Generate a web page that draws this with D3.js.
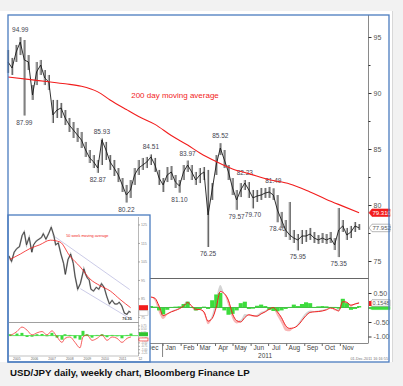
<!DOCTYPE html>
<html>
<head>
<meta charset="utf-8">
<script src="https://cdn.jsdelivr.net/npm/d3@7"></script>
<style>
body { margin: 0; background: #f2f2f2; }
svg { display: block; font-family: "Liberation Sans", Arial, sans-serif; }
</style>
</head>
<body>
<svg width="403" height="386"></svg>
<script>
// ---- daily chart, one entry per week starting 11 Apr 2010 ----
var firstWeek = new Date(2010, 3, 11);
var weekHigh = [93.84, 93.13, 94.29, 94.99, 94.73, 93.39, 90.71, 92.77, 92.95, 92.05,
    91.61, 89.38, 89.38, 89.11, 88.48, 87.77, 87.41, 86.88, 86.52, 85.63,
    84.91, 84.46, 84.02, 85.93, 85.63, 84.46, 84.02, 83.30, 82.41, 81.79,
    82.23, 83.30, 84.02, 84.20, 84.29, 84.51, 84.20, 83.13, 82.41, 83.39,
    83.48, 82.68, 82.23, 83.57, 83.97, 83.57, 82.95, 83.30, 83.39, 83.13,
    81.96, 84.46, 85.52, 84.91, 83.57, 82.41, 81.34, 81.96, 82.23, 82.05,
    81.34, 81.34, 81.52, 81.52, 81.61, 81.49, 80.89, 79.38, 78.66, 80.27,
    77.77, 77.41, 77.77, 77.77, 77.95, 77.59, 77.32, 77.50, 77.41, 77.59,
    77.05, 79.73, 78.66, 77.95, 78.13, 78.48, 78.30];
var weekLow = [91.79, 91.61, 92.77, 93.39, 87.99, 92.05, 89.38, 90.71, 91.61, 90.71,
    90.27, 87.32, 87.77, 87.77, 87.14, 86.52, 85.98, 85.63, 85.09, 84.29,
    83.75, 83.30, 82.87, 83.57, 84.02, 83.13, 82.59, 82.05, 81.16, 80.22,
    80.63, 81.79, 82.68, 83.13, 83.30, 83.57, 82.95, 81.79, 81.16, 82.05,
    82.23, 81.52, 81.10, 82.23, 82.95, 82.23, 81.79, 81.96, 82.23, 76.25,
    80.45, 82.68, 84.46, 83.30, 82.23, 80.89, 79.57, 80.71, 81.34, 80.63,
    79.70, 80.27, 80.45, 80.63, 80.63, 80.45, 78.46, 77.95, 77.14, 76.88,
    76.61, 75.95, 76.52, 76.70, 76.88, 76.61, 76.52, 76.61, 76.52, 76.61,
    75.98, 75.35, 77.59, 76.88, 77.05, 77.59, 77.77];
var weekClose = [92.77, 92.23, 93.66, 94.55, 92.95, 92.77, 89.82, 91.88, 92.50, 91.34,
    90.98, 88.04, 88.48, 88.66, 87.77, 87.14, 86.70, 86.25, 85.80, 84.91,
    84.20, 83.84, 83.30, 85.80, 84.91, 83.84, 83.30, 82.68, 81.79, 80.89,
    81.34, 82.68, 83.30, 83.57, 83.84, 84.29, 83.57, 82.41, 81.79, 82.68,
    82.95, 82.05, 81.70, 82.95, 83.57, 82.95, 82.23, 82.68, 82.95, 79.11,
    81.34, 83.57, 85.09, 84.02, 82.95, 81.52, 80.45, 81.34, 81.96, 81.34,
    80.63, 80.80, 80.89, 81.07, 81.16, 80.89, 79.55, 78.66, 77.77, 77.32,
    77.05, 76.88, 77.23, 77.23, 77.41, 77.05, 76.88, 77.05, 76.88, 77.05,
    76.43, 77.77, 78.13, 77.32, 77.59, 78.13, 77.952];

// 200 day moving average, read at these week numbers
var maWeek = [0, 6, 10, 14, 18, 22, 25, 29, 32, 36, 40, 44, 47, 51, 55, 59, 64, 69, 74, 78, 82, 86];
var maValue = [91.43, 91.17, 91.0, 90.82, 90.6, 90.1, 89.38, 88.52, 87.9, 87.2, 86.2,
    85.35, 84.65, 83.88, 83.22, 82.8, 82.25, 81.88, 81.16, 80.5, 79.9, 79.31];

// turning point labels: [text, week, value, side]
var peakLabels = [["94.99", 3, 94.99, "a"], ["87.99", 4, 87.99, "b"], ["85.93", 23, 85.93, "a"],
    ["82.87", 22, 82.87, "b"], ["80.22", 29, 80.22, "b"], ["84.51", 35, 84.51, "a"],
    ["81.10", 42, 81.10, "b"], ["83.97", 44, 83.97, "a"], ["76.25", 49, 76.25, "b"],
    ["85.52", 52, 85.52, "a"], ["79.57", 56, 79.57, "b"], ["82.23", 58, 82.23, "a"],
    ["79.70", 60, 79.70, "b"], ["81.49", 65, 81.49, "a"], ["78.46", 66, 78.46, "b"],
    ["75.95", 71, 75.95, "b"], ["75.35", 81, 75.35, "b"]];

// lower oscillator, from week 35 on
var oscStart = 35;
var oscSlow = [0.36, 0.32, 0.05, -0.28, -0.22, -0.15, -0.10, -0.04, 0.05, 0.17,
    0.05, -0.06, -0.07, -0.15, -0.47, -0.38, 0.00, 0.55, 0.48, 0.25,
    -0.22, -0.45, -0.50, -0.35, -0.25, -0.28, -0.30, -0.22, -0.15, -0.06,
    0.00, -0.15, -0.35, -0.62, -0.72, -0.70, -0.62, -0.45, -0.28, -0.17,
    -0.15, -0.14, -0.12, -0.08, -0.02, -0.05, -0.12, 0.20, 0.18, 0.08, 0.12, 0.1548];
var oscFast = [0.38, 0.22, -0.18, -0.40, -0.25, -0.12, -0.06, 0.00, 0.12, 0.22,
    0.00, -0.12, -0.08, -0.22, -0.58, -0.25, 0.35, 0.78, 0.45, 0.05,
    -0.40, -0.55, -0.42, -0.22, -0.28, -0.32, -0.25, -0.15, -0.10, -0.02,
    -0.05, -0.30, -0.55, -0.80, -0.82, -0.70, -0.55, -0.35, -0.18, -0.10,
    -0.12, -0.10, -0.08, -0.04, 0.00, -0.10, -0.05, 0.30, 0.12, 0.02, 0.15, 0.20];
var oscHist = [0.05, 0.03, -0.10, -0.24, -0.08, 0.02, 0.03, 0.04, 0.12, 0.20,
    0.02, -0.10, -0.05, 0.03, -0.05, 0.25, 0.45, 0.50, -0.10, -0.25,
    -0.22, -0.10, 0.15, 0.20, -0.05, -0.04, 0.06, 0.10, 0.05, -0.08,
    -0.12, -0.13, -0.10, -0.05, 0.02, 0.10, 0.05, 0.12, 0.18, 0.15,
    0.02, 0.04, 0.05, 0.04, 0.02, 0.02, -0.04, 0.30, 0.15, -0.08, -0.05, 0.05];
var monthNames = ["Dec", "Jan", "Feb", "Mar", "Apr", "May", "Jun", "Jul", "Aug", "Sep", "Oct", "Nov"];

// ---- weekly inset chart (years as decimals) ----
var insetYear = [2005.05, 2005.2, 2005.35, 2005.5, 2005.65, 2005.8, 2005.92, 2006.05, 2006.2, 2006.35,
    2006.45, 2006.6, 2006.75, 2006.9, 2007.0, 2007.15, 2007.3, 2007.45, 2007.6, 2007.7,
    2007.85, 2008.0, 2008.15, 2008.25, 2008.4, 2008.55, 2008.7, 2008.8, 2008.95, 2009.1,
    2009.3, 2009.4, 2009.5, 2009.6, 2009.7, 2009.85, 2010.0, 2010.15, 2010.3, 2010.45,
    2010.6, 2010.75, 2010.9, 2011.05, 2011.2, 2011.3, 2011.45, 2011.6, 2011.75, 2011.85, 2011.95];
var insetPrice = [108, 105, 110, 112, 113, 119, 121, 114, 118, 110,
    114, 116, 117, 118, 120, 117, 120, 123.5, 119, 114,
    115, 109, 104, 98, 106, 109, 104, 97, 90, 93,
    101, 98, 96, 95, 90, 89, 91, 90, 93, 91,
    86, 82, 84, 82, 82, 83, 81, 77, 76.4, 78, 77.5];
var insetMaYear = [2005.1, 2005.7, 2006.25, 2006.8, 2007.4, 2007.95, 2008.5, 2009.1, 2009.65, 2010.2, 2010.8, 2011.35, 2011.95];
var insetMa = [106, 109, 112, 114, 116.5, 115.5, 108, 102, 95.5, 92, 89, 84.5, 80];
var channelUpper = [[2007.5, 119.4], [2011.9, 89.8]];
var channelLower = [[2009.1, 90.3], [2011.9, 74.2]];
var insetOscYear = [2005.11, 2005.51, 2005.79, 2006.08, 2006.36, 2006.64, 2006.93, 2007.21, 2007.49, 2007.78,
    2008.06, 2008.23, 2008.51, 2008.80, 2009.08, 2009.25, 2009.48, 2009.76, 2010.05, 2010.33,
    2010.61, 2010.90, 2011.18, 2011.46, 2011.75, 2011.97];
var insetOsc = [0, 0.3, 0.63, 0.4, 0.05, 0.2, 0.3, 0.05, 0.35, -0.1,
    -0.5, -0.2, -0.1, -0.5, -0.9, -0.1, 0.05, -0.35, -0.2, 0.05,
    -0.35, -0.1, -0.2, -0.5, -0.2, -0.1];
var insetHist = [0.1, 0.15, 0.2, -0.1, -0.08, 0.1, 0.12, -0.05, 0.2, -0.15,
    -0.3, 0.1, 0.05, -0.2, -0.3, 0.35, 0.1, -0.15, 0.05, 0.1,
    -0.12, 0.05, -0.05, -0.2, 0.05, 0.15];
var insetYears = ["2005", "2006", "2007", "2008", "2009", "2010", "2011", "12"];

var RED = "#f21d1d", GREEN = "#3cdc3c", BLUE = "#4a7cbf";

var svg = d3.select("svg");

// page background + white card
svg.append("rect").attr("x", 0).attr("y", 11).attr("width", 392).attr("height", 351).attr("fill", "#fff");
svg.append("line").attr("x1", 392.5).attr("x2", 392.5).attr("y1", 11).attr("y2", 362).attr("stroke", "#d8d8d8");

// scales
var x = d3.scaleTime().domain([new Date(2010, 3, 11), new Date(2011, 11, 9)]).range([8, 362]);
var y = d3.scaleLinear().domain([75, 95]).range([261, 37]);
var yOsc = d3.scaleLinear().domain([-1, 0.5]).range([336.5, 293]);
var weeks = weekClose.map(function (d, i) { return d3.timeWeek.offset(firstWeek, i); });
var wx = function (i) { return x(weeks[i]); };

var plot = svg.append("g");

// panel frame lines
plot.append("line").attr("x1", 368.5).attr("x2", 368.5).attr("y1", 15).attr("y2", 343).attr("stroke", "#8a8a8a");
plot.append("line").attr("x1", 8).attr("x2", 368.5).attr("y1", 278.5).attr("y2", 278.5).attr("stroke", "#666");
plot.append("line").attr("x1", 8).attr("x2", 368.5).attr("y1", 343.5).attr("y2", 343.5).attr("stroke", "#888");

// price axis
var yAxis = plot.append("g").attr("transform", "translate(368.5,0)")
    .call(d3.axisRight(y).tickValues([75, 80, 85, 90, 95]).tickSize(3).tickFormat(d3.format("d")));
var yMinor = plot.append("g").attr("transform", "translate(368.5,0)")
    .call(d3.axisRight(y).tickValues([77.5, 82.5, 87.5, 92.5]).tickSize(2).tickFormat(""));
[yAxis, yMinor].forEach(function (a) {
    a.select(".domain").remove();
    a.selectAll("line").attr("stroke", "#333");
    a.selectAll("text").attr("font-size", 7).attr("fill", "#555").attr("x", 5)
        .attr("font-family", "Liberation Sans, Arial, sans-serif");
});

// turning point labels (under the bars, as in the source)
plot.selectAll(".pl").data(peakLabels).enter().append("text")
    .attr("class", "pl")
    .attr("x", function (d) { return wx(d[1]); })
    .attr("y", function (d) { return d[3] == "a" ? y(d[2]) - 5 : y(d[2]) + 9; })
    .attr("text-anchor", "middle")
    .attr("font-size", 6.5)
    .attr("fill", "#44444f")
    .text(function (d) { return d[0]; });

// price bars
plot.selectAll(".band").data(weekClose).enter().append("line")
    .attr("x1", function (d, i) { return wx(i); })
    .attr("x2", function (d, i) { return wx(i); })
    .attr("y1", function (d, i) { return y(weekHigh[i]); })
    .attr("y2", function (d, i) { return y(weekLow[i]); })
    .attr("stroke", "#b0b0b0").attr("stroke-width", 2.2);
plot.selectAll(".hl").data(weekClose).enter().append("line")
    .attr("x1", function (d, i) { return wx(i) + 0.6; })
    .attr("x2", function (d, i) { return wx(i) + 0.6; })
    .attr("y1", function (d, i) { return y(weekHigh[i]); })
    .attr("y2", function (d, i) { return y(weekLow[i]); })
    .attr("stroke", "#3a3a3a").attr("stroke-width", 0.7);
plot.append("path")
    .datum(weekClose)
    .attr("d", d3.line().x(function (d, i) { return wx(i); }).y(function (d) { return y(d); }))
    .attr("fill", "none").attr("stroke", "#1a1a1a").attr("stroke-width", 0.9);

// moving average
plot.append("path")
    .datum(maValue)
    .attr("d", d3.line().curve(d3.curveMonotoneX)
        .x(function (d, i) { return wx(maWeek[i]); }).y(function (d) { return y(d); }))
    .attr("fill", "none").attr("stroke", RED).attr("stroke-width", 1.1);
plot.append("text").attr("x", 175).attr("y", 98).attr("text-anchor", "middle")
    .attr("font-size", 8).attr("fill", RED).text("200 day moving average");

// right-hand value tags
function tag(g, yy, w, h, txt, fill, stroke, color, fs) {
    var x0 = 369;
    g.append("path")
        .attr("d", "M" + x0 + "," + yy + "L" + (x0 + 3) + "," + (yy - h / 2) + "H" + (x0 + w) +
            "V" + (yy + h / 2) + "H" + (x0 + 3) + "Z")
        .attr("fill", fill).attr("stroke", stroke).attr("stroke-width", 0.6);
    g.append("text").attr("x", x0 + 3.5).attr("y", yy + fs * 0.36).attr("font-size", fs)
        .attr("fill", color).text(txt);
}
tag(plot, y(maValue[maValue.length - 1]), 21, 7.5, d3.format(".3f")(maValue[maValue.length - 1]), RED, RED, "#fff", 6);
tag(plot, y(weekClose[weekClose.length - 1]), 21, 7.5, d3.format(".3f")(weekClose[weekClose.length - 1]), "#fff", "#888", "#555", 6);

// oscillator panel
var ox = function (i) { return wx(oscStart + i); };
plot.append("path").datum(oscSlow)
    .attr("d", d3.area().curve(d3.curveMonotoneX).x(function (d, i) { return ox(i); })
        .y0(function (d) { return yOsc(d); })
        .y1(function (d, i) { return yOsc(Math.min(d, oscFast[i])); }))
    .attr("fill", "#f7a9a9").attr("opacity", 0.85);
plot.append("path").datum(oscSlow)
    .attr("d", d3.area().curve(d3.curveMonotoneX).x(function (d, i) { return ox(i); })
        .y0(function (d) { return yOsc(d); })
        .y1(function (d, i) { return yOsc(Math.max(d, oscFast[i])); }))
    .attr("fill", "#cfcfcf").attr("opacity", 0.9);
plot.selectAll(".hist").data(oscHist).enter().append("rect")
    .attr("x", function (d, i) { return ox(i) - 2; })
    .attr("width", 4.1)
    .attr("y", function (d) { return yOsc(Math.max(0, d)); })
    .attr("height", function (d) { return Math.abs(yOsc(d) - yOsc(0)); })
    .attr("fill", GREEN);
plot.append("line").attr("x1", ox(0)).attr("x2", ox(oscHist.length - 1))
    .attr("y1", yOsc(0)).attr("y2", yOsc(0)).attr("stroke", "#2fb52f").attr("stroke-width", 0.8);
plot.append("path").datum(oscSlow)
    .attr("d", d3.line().curve(d3.curveMonotoneX).x(function (d, i) { return ox(i); }).y(function (d) { return yOsc(d); }))
    .attr("fill", "none").attr("stroke", RED).attr("stroke-width", 1);

var oAxis = plot.append("g").attr("transform", "translate(368.5,0)")
    .call(d3.axisRight(yOsc).tickValues([0.5, -0.5, -1]).tickSize(3)
        .tickFormat(function (d) { return d.toFixed(2); }));
var oMinor = plot.append("g").attr("transform", "translate(368.5,0)")
    .call(d3.axisRight(yOsc).tickValues([0]).tickSize(3).tickFormat(""));
[oAxis, oMinor].forEach(function (a) {
    a.select(".domain").remove();
    a.selectAll("line").attr("stroke", "#333");
    a.selectAll("text").attr("font-size", 7).attr("fill", "#555").attr("x", 5)
        .attr("font-family", "Liberation Sans, Arial, sans-serif");
});
tag(plot, yOsc(oscHist[oscHist.length - 1]) + 2, 21, 3, "", GREEN, GREEN, "#fff", 5);
tag(plot, yOsc(oscSlow[oscSlow.length - 1]), 21, 6.5, d3.format(".4f")(oscSlow[oscSlow.length - 1]), "#fff", "#888", "#555", 5.5);
plot.append("rect").attr("x", 369).attr("y", yOsc(oscSlow[oscSlow.length - 1]) - 2).attr("width", 2.5).attr("height", 5).attr("fill", RED);

// month axis
var midMonths = monthNames.map(function (m, i) { return new Date(2010, 11 + i, 15); });
var monthStarts = monthNames.map(function (m, i) { return new Date(2010, 11 + i, 1); });
var mAxis = plot.append("g").attr("transform", "translate(0,343.5)")
    .call(d3.axisBottom(x).tickValues(monthStarts).tickSize(2.5).tickFormat(""));
mAxis.select(".domain").remove();
mAxis.selectAll("line").attr("stroke", "#666");
plot.selectAll(".mon").data(midMonths).enter().append("text")
    .attr("x", function (d) { return x(d); }).attr("y", 349.5)
    .attr("text-anchor", "middle").attr("font-size", 6.5).attr("fill", "#444")
    .text(function (d, i) { return monthNames[i]; });
plot.append("line").attr("x1", x(new Date(2011, 0, 1))).attr("x2", x(new Date(2011, 0, 1)))
    .attr("y1", 343.5).attr("y2", 357).attr("stroke", "#666").attr("stroke-width", 0.8);
plot.append("text").attr("x", x(new Date(2011, 6, 1)) - 3).attr("y", 357.5).attr("text-anchor", "middle")
    .attr("font-size", 6.5).attr("fill", "#444").text("2011");
plot.append("text").attr("x", 388).attr("y", 359.5).attr("text-anchor", "end")
    .attr("font-size", 3.8).attr("fill", "#777").text("01-Dec-2011 16:16:55");

// ---------------- weekly inset ----------------
var ix = d3.scaleLinear().domain([2005, 2012]).range([8, 131.5]);
var iy = d3.scaleLinear().domain([72, 126]).range([322.5, 222.6]);
var iyOsc = d3.scaleLinear().domain([-1.5, 1]).range([356, 322]);
var inset = svg.append("g");
inset.append("rect").attr("x", 8).attr("y", 215).attr("width", 142).attr("height", 147).attr("fill", "#fff");
inset.append("line").attr("x1", 138.5).attr("x2", 138.5).attr("y1", 217).attr("y2", 356).attr("stroke", "#999").attr("stroke-width", 0.7);
inset.append("line").attr("x1", 9).attr("x2", 138.5).attr("y1", 322.5).attr("y2", 322.5).attr("stroke", "#777").attr("stroke-width", 0.7);
inset.append("line").attr("x1", 9).attr("x2", 138.5).attr("y1", 356).attr("y2", 356).attr("stroke", "#999").attr("stroke-width", 0.6);

var iAxis = inset.append("g").attr("transform", "translate(138.5,0)")
    .call(d3.axisRight(iy).tickValues([75, 85, 95, 105, 115, 125]).tickSize(1.5).tickFormat(d3.format("d")));
iAxis.select(".domain").remove();
iAxis.selectAll("line").attr("stroke", "#555").attr("stroke-width", 0.5);
iAxis.selectAll("text").attr("font-size", 3.6).attr("fill", "#888").attr("x", 2.5);
var ioAxis = inset.append("g").attr("transform", "translate(138.5,0)")
    .call(d3.axisRight(iyOsc).tickValues([0.75, 0.5, 0.25, -0.25, -0.5, -0.75, -1, -1.25]).tickSize(1.5)
        .tickFormat(function (d) { return d.toFixed(2); }));
ioAxis.select(".domain").remove();
ioAxis.selectAll("line").attr("stroke", "#555").attr("stroke-width", 0.5);
ioAxis.selectAll("text").attr("font-size", 2.8).attr("fill", "#888").attr("x", 2.5);

[channelUpper, channelLower].forEach(function (c) {
    inset.append("line")
        .attr("x1", ix(c[0][0])).attr("y1", iy(c[0][1]))
        .attr("x2", ix(c[1][0])).attr("y2", iy(c[1][1]))
        .attr("stroke", "#b4b4dc").attr("stroke-width", 0.7);
});
inset.append("path").datum(insetPrice)
    .attr("d", d3.line().x(function (d, i) { return ix(insetYear[i]); }).y(function (d) { return iy(d); }))
    .attr("fill", "none").attr("stroke", "#b0b0b0").attr("stroke-width", 1.6);
inset.append("path").datum(insetPrice)
    .attr("d", d3.line().x(function (d, i) { return ix(insetYear[i]); }).y(function (d) { return iy(d); }))
    .attr("fill", "none").attr("stroke", "#222").attr("stroke-width", 0.7);
inset.append("path").datum(insetMa)
    .attr("d", d3.line().curve(d3.curveMonotoneX).x(function (d, i) { return ix(insetMaYear[i]); }).y(function (d) { return iy(d); }))
    .attr("fill", "none").attr("stroke", RED).attr("stroke-width", 0.8);
inset.append("text").attr("x", ix(2008.3)).attr("y", iy(118)).attr("font-size", 3.8).attr("fill", RED)
    .text("50 week moving average");
inset.append("text").attr("x", ix(2011.75)).attr("y", iy(76.4) + 6).attr("text-anchor", "middle")
    .attr("font-size", 3.8).attr("font-weight", "bold").attr("fill", "#333").text("76.35");

// inset tags
inset.append("rect").attr("x", 139).attr("y", iy(insetMa[insetMa.length - 1]) - 2.5).attr("width", 9).attr("height", 5).attr("fill", RED);
inset.append("rect").attr("x", 139).attr("y", iy(insetPrice[insetPrice.length - 1]) - 1.5).attr("width", 9).attr("height", 4.5)
    .attr("fill", "#fff").attr("stroke", "#999").attr("stroke-width", 0.4);

// inset oscillator
inset.selectAll(".ih").data(insetHist).enter().append("rect")
    .attr("x", function (d, i) { return ix(insetOscYear[i]) - 1.5; })
    .attr("width", 3)
    .attr("y", function (d) { return iyOsc(Math.max(0, d)); })
    .attr("height", function (d) { return Math.abs(iyOsc(d) - iyOsc(0)); })
    .attr("fill", GREEN);
inset.append("line").attr("x1", 9).attr("x2", 138).attr("y1", iyOsc(0)).attr("y2", iyOsc(0))
    .attr("stroke", GREEN).attr("stroke-width", 0.8);
inset.append("path").datum(insetOsc)
    .attr("d", d3.line().curve(d3.curveMonotoneX).x(function (d, i) { return ix(insetOscYear[i]); }).y(function (d) { return iyOsc(d); }))
    .attr("fill", "none").attr("stroke", RED).attr("stroke-width", 0.7);
inset.append("rect").attr("x", 139).attr("y", iyOsc(0.1) - 2).attr("width", 9).attr("height", 4).attr("fill", "#2fc52f");
inset.append("rect").attr("x", 139).attr("y", iyOsc(-0.1) + 1).attr("width", 9).attr("height", 3).attr("fill", "#fff")
    .attr("stroke", RED).attr("stroke-width", 0.6);

inset.selectAll(".iy").data(insetYears).enter().append("text")
    .attr("x", function (d, i) { return ix(2005.5 + i); }).attr("y", 359.5)
    .attr("text-anchor", "middle").attr("font-size", 3.4).attr("fill", "#666")
    .text(function (d) { return d; });
inset.append("rect").attr("x", 8).attr("y", 215).attr("width", 142).attr("height", 147)
    .attr("fill", "none").attr("stroke", BLUE).attr("stroke-width", 1.3);

// outer frame
svg.append("rect").attr("x", 8).attr("y", 15).attr("width", 381).attr("height", 347)
    .attr("fill", "none").attr("stroke", BLUE).attr("stroke-width", 1.3);

// caption
svg.append("text").attr("x", 10).attr("y", 376).attr("font-size", 9.7).attr("font-weight", "bold")
    .attr("fill", "#111").text("USD/JPY daily, weekly chart, Bloomberg Finance LP");
</script>
</body>
</html>
